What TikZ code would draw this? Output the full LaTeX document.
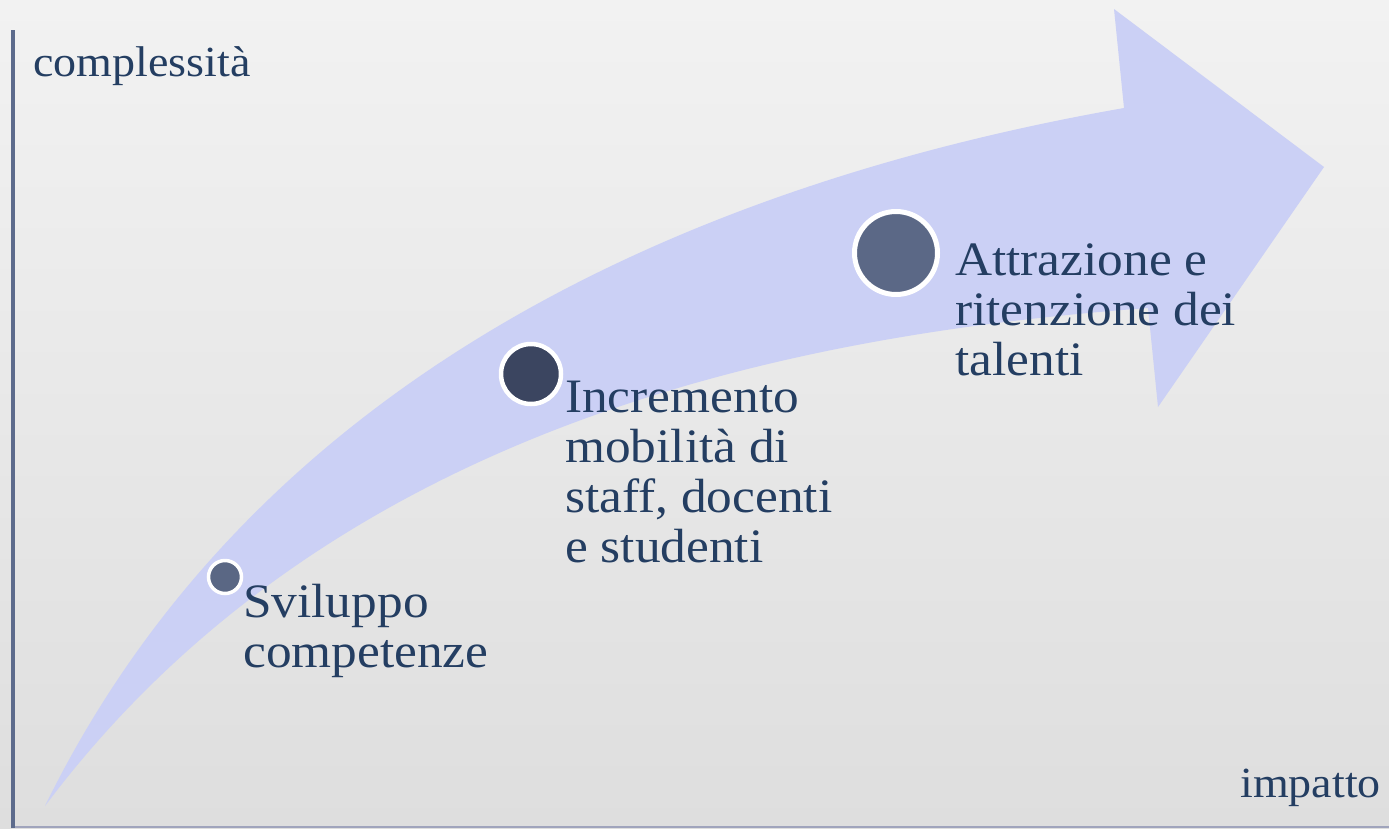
\documentclass[tikz,border=0pt]{standalone}
\usepackage{fontspec}
\setmainfont[FakeStretch=1.07]{Liberation Serif}
\definecolor{bgtop}{RGB}{242,242,242}
\definecolor{bgbot}{RGB}{222,222,222}
\definecolor{arrowfill}{RGB}{203,208,245}
\definecolor{txt}{RGB}{36,62,98}
\definecolor{axisclr}{RGB}{93,107,140}
\definecolor{baseclr}{RGB}{160,164,188}
\definecolor{dotA}{RGB}{90,103,132}
\definecolor{dotB}{RGB}{59,69,96}
\definecolor{dotC}{RGB}{91,104,134}
\tikzset{
  dot/.style={circle, draw=white, inner sep=0pt},
  lbl/.style={anchor=north west, inner sep=0pt, align=left, text=txt,
              font=\fontsize{48}{50}\selectfont},
  axlbl/.style={inner sep=0pt, text=txt, font=\fontsize{43}{45}\selectfont}
}
\begin{document}
\begin{tikzpicture}[x=1pt,y=-1pt]
\useasboundingbox (0,0) rectangle (1389,828);
\fill[top color=bgtop, bottom color=bgbot] (0,0) rectangle (1389,828);
% curved arrow
\fill[arrowfill] (45,806) .. controls (243,401) and (651,191) .. (1124,108)
  -- (1114,9) -- (1324,167) -- (1158,407) -- (1148,308)
  .. controls (799,334) and (333,422) .. (45,806) -- cycle;
% axes
\coordinate (ytop) at (13,30);
\coordinate (origin) at (13,828);
\coordinate (xstart) at (15,827);
\coordinate (xend) at (1389,827);
\draw[baseclr, line width=2pt] (xstart) -- (xend);
\draw[axisclr, line width=4pt] (origin) -- (ytop);
\node[axlbl, anchor=base west] (ylab) at (33,76) {complessità};
\node[axlbl, anchor=base east] (xlab) at (1381,797) {impatto};
% milestones
\node[dot, fill=dotA, line width=3.5pt, minimum size=33pt] (c1) at (225,577) {};
\node[dot, fill=dotB, line width=4.5pt, minimum size=60pt] (c2) at (531,374) {};
\node[dot, fill=dotC, line width=5pt, minimum size=83pt] (c3) at (896,253) {};
\node[lbl] (t1) at (243,584) {Sviluppo\\competenze};
\node[lbl] (t2) at (565,381) {Incremento\\mobilità di\\staff, docenti\\e studenti};
\node[lbl] (t3) at (955,244) {Attrazione e\\ritenzione dei\\talenti};
\end{tikzpicture}
\end{document}
